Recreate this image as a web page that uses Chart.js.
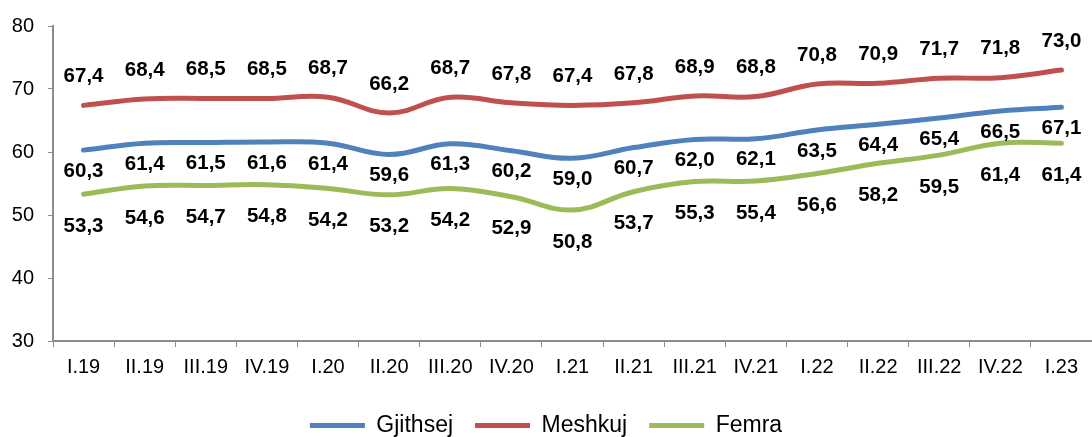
<!DOCTYPE html>
<html>
<head>
<meta charset="utf-8">
<script src="https://cdn.jsdelivr.net/npm/chart.js@4"></script>
<style>
  html, body { margin: 0; padding: 0; background: #fff; }
  #wrap { width: 1092px; height: 437px; position: relative; }
</style>
</head>
<body>
<div id="wrap"><canvas id="c" width="1092" height="437"></canvas></div>
<script>
const categories = ["I.19","II.19","III.19","IV.19","I.20","II.20","III.20","IV.20","I.21","II.21","III.21","IV.21","I.22","II.22","III.22","IV.22","I.23"];
const gjithsej = [60.3, 61.4, 61.5, 61.6, 61.4, 59.6, 61.3, 60.2, 59.0, 60.7, 62.0, 62.1, 63.5, 64.4, 65.4, 66.5, 67.1];
const meshkuj  = [67.4, 68.4, 68.5, 68.5, 68.7, 66.2, 68.7, 67.8, 67.4, 67.8, 68.9, 68.8, 70.8, 70.9, 71.7, 71.8, 73.0];
const femra    = [53.3, 54.6, 54.7, 54.8, 54.2, 53.2, 54.2, 52.9, 50.8, 53.7, 55.3, 55.4, 56.6, 58.2, 59.5, 61.4, 61.4];
const seriesNames = ["Gjithsej", "Meshkuj", "Femra"];
const yTicks = [30, 40, 50, 60, 70, 80];

const FONT = "'Liberation Sans', Arial, sans-serif";
const AXIS = '#8c8c8c';
const labelOffsets = [21, -29, 32];

const dataLabels = {
  id: 'dataLabels',
  afterDatasetsDraw(chart) {
    const ctx = chart.ctx;
    ctx.save();
    ctx.font = "bold 20.5px " + FONT;
    ctx.fillStyle = '#000';
    ctx.textAlign = 'center';
    ctx.textBaseline = 'middle';
    chart.data.datasets.forEach((ds, di) => {
      const meta = chart.getDatasetMeta(di);
      meta.data.forEach((pt, i) => {
        const txt = ds.data[i].toFixed(1).replace('.', ',');
        ctx.fillText(txt, pt.x, pt.y + labelOffsets[di]);
      });
    });
    ctx.restore();
  }
};

const mk = (label, data, color) => ({
  label, data,
  borderColor: color, backgroundColor: color,
  borderWidth: 5, borderCapStyle: 'round', borderJoinStyle: 'round',
  pointRadius: 0, pointHoverRadius: 0, tension: 0.4, fill: false
});

new Chart(document.getElementById('c'), {
  type: 'line',
  data: {
    labels: categories,
    datasets: [
      mk(seriesNames[0], gjithsej, '#4F81BD'),
      mk(seriesNames[1], meshkuj, '#C0504D'),
      mk(seriesNames[2], femra, '#9BBB59')
    ]
  },
  options: {
    responsive: false,
    animation: false,
    events: [],
    layout: { padding: { top: 22, right: 0, left: 0, bottom: 0 } },
    plugins: {
      tooltip: { enabled: false },
      legend: {
        position: 'bottom',
        maxHeight: 45,
        labels: {
          usePointStyle: true,
          pointStyle: 'line',
          pointStyleWidth: 55,
          font: { family: FONT, size: 23 },
          color: '#000',
          padding: 22
        }
      }
    },
    scales: {
      x: {
        offset: true,
        grid: { display: true, drawOnChartArea: false, drawTicks: true, tickLength: 6, color: AXIS, offset: true },
        border: { display: true, color: AXIS, width: 2 },
        ticks: { font: { family: FONT, size: 20 }, color: '#000', padding: 8, maxRotation: 0, autoSkip: false },
        afterFit(s) { s.height = 51; }
      },
      y: {
        min: 30, max: 80,
        afterBuildTicks(s) { s.ticks = yTicks.map(v => ({ value: v })); },
        grid: { display: true, drawOnChartArea: false, drawTicks: true, tickLength: 5, color: AXIS },
        border: { display: true, color: AXIS, width: 2 },
        ticks: { font: { family: FONT, size: 20 }, color: '#000', padding: 14 },
        afterFit(s) { s.width = 53; }
      }
    }
  },
  plugins: [dataLabels]
});
</script>
</body>
</html>
